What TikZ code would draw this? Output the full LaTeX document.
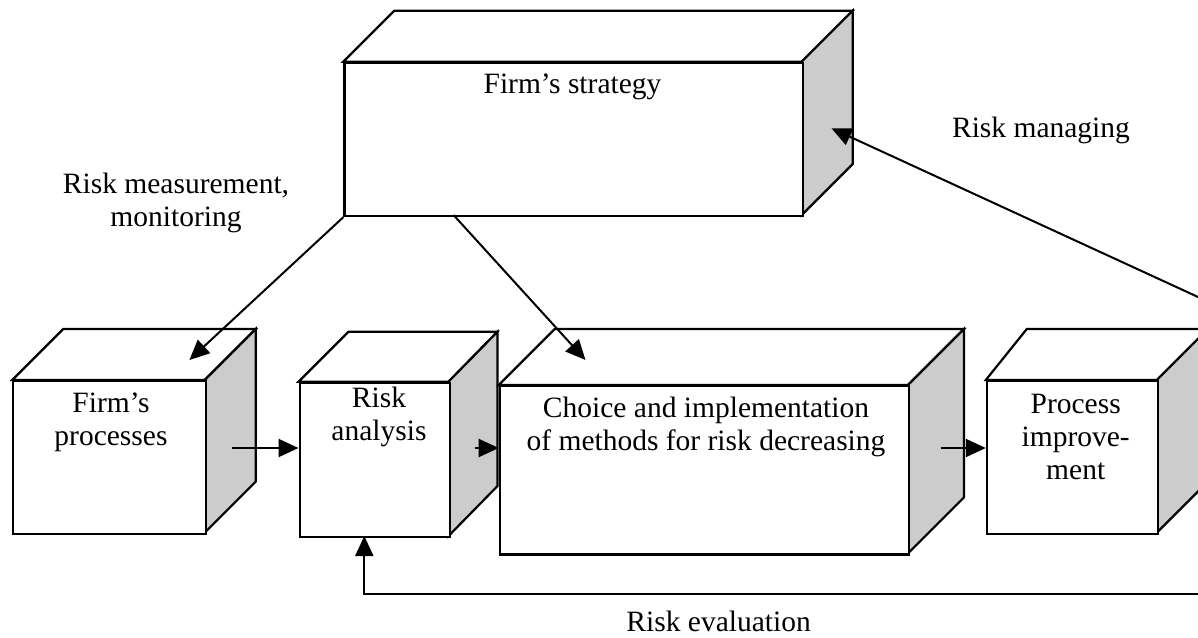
\documentclass[tikz,border=0pt]{standalone}
\usepackage{fontspec}
\setmainfont{Liberation Serif}
\usetikzlibrary{arrows.meta}
\definecolor{sidegray}{HTML}{CCCCCC}
\tikzset{
  cubeedge/.style={draw=black, line width=2.2pt, line join=miter},
  face/.style={cubeedge, fill=white},
  sideface/.style={cubeedge, fill=sidegray},
  frontface/.style={cubeedge, fill=white, rectangle, inner sep=0pt, anchor=north west},
  conn/.style={draw=black, line width=2pt, -{Triangle[length=20pt,width=18pt]}},
  lbl/.style={align=center, inner sep=0pt, font=\fontsize{29.5}{33}\selectfont},
}
% #1 name, #2 x1, #3 y1 (front top-left), #4 x2, #5 y2 (front bottom-right), #6 left depth dx, #7 right depth dx, #8 depth dy
\newcommand\mycube[8]{%
  \path[face] (#2,#3) -- ({#2+#6},{#3-#8}) -- ({#4+#7},{#3-#8}) -- (#4,#3) -- cycle;
  \path[sideface] (#4,#3) -- ({#4+#7},{#3-#8}) -- ({#4+#7},{#5-#8}) -- (#4,#5) -- cycle;
  \node[frontface, minimum width={(#4-#2)*1pt}, minimum height={(#5-#3)*1pt}] (#1) at (#2,#3) {};
}
\begin{document}
\begin{tikzpicture}[x=1pt,y=-1pt]
\useasboundingbox (0,0) rectangle (1198,637);
\clip (0,0) rectangle (1198,637);
\fill[white] (0,0) rectangle (1198,637);

\mycube{ts}{343.3}{61.7}{801.7}{215}{51}{51}{51}
\mycube{fp}{12.2}{380}{204.7}{532.7}{51}{51}{51}
\mycube{ra}{298.5}{381.7}{448.5}{536}{50}{49}{50}
\mycube{ch}{498.7}{385}{908}{553.3}{56}{56}{56}
\mycube{pi}{985.8}{380}{1156.8}{532.7}{41}{51}{51}

\node[lbl] (tst) at (572.5,87) {Firm’s strategy};
\node[lbl] (rm) at (1041,130) {Risk managing};
\node[lbl] (rmm) at (176,203) {Risk measurement,\\monitoring};
\node[lbl] (fpt) at (111,422) {Firm’s\\processes};
\node[lbl] (rat) at (379,417) {Risk\\analysis};
\node[lbl] (cht) at (706,427) {Choice and implementation\\of methods for risk decreasing};
\node[lbl] (pit) at (1075.7,437) {Process\\improve-\\ment};
\node[lbl, text depth=0pt, anchor=base] (re) at (718.6,631) {Risk evaluation};

\coordinate (tsb) at (453.5,215);
\coordinate (fptip) at (189.4,360);
\coordinate (chtip) at (585.5,360);
\coordinate (fpout) at (231.5,448);
\coordinate (raout) at (474.6,448);
\coordinate (chout) at (940.6,448);
\coordinate (rmstart) at (1210,302.5);
\coordinate (rmtip) at (831.5,128.3);
\coordinate (restart) at (1210,594);
\coordinate (rein) at (364.3,536);

\draw[conn] (ts.south west) -- (fptip);
\draw[conn] (tsb) -- (chtip);
\draw[conn] (fpout) -- (fpout -| ra.west);
\draw[conn] (raout) -- (raout -| ch.west);
\draw[conn] (chout) -- (chout -| pi.west);
\draw[conn] (rmstart) -- (rmtip);
\draw[conn] (restart) -- (restart -| rein) -- (rein);
\end{tikzpicture}
\end{document}
